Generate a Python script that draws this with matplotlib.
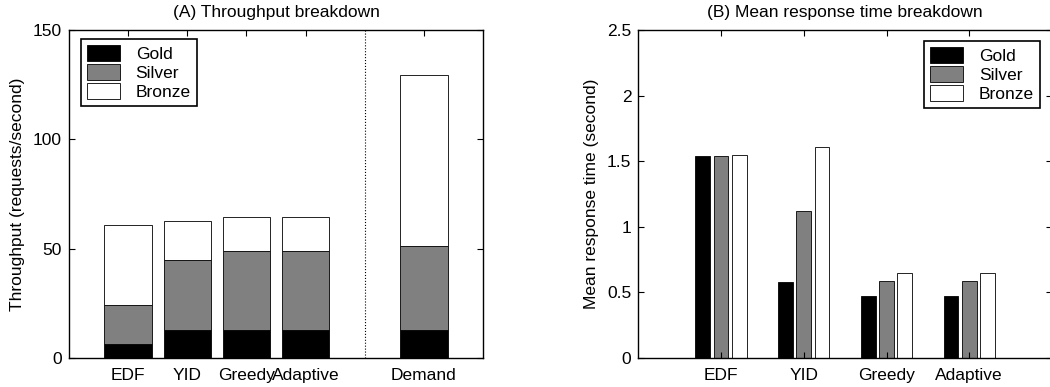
import matplotlib
matplotlib.use("Agg")
import matplotlib.pyplot as plt
import numpy as np

plt.rcParams['font.family'] = ['Liberation Sans', 'DejaVu Sans']
plt.rcParams['font.size'] = 12.5

# throughput breakdown (stacked segments)
thr_cats = ['EDF', 'YID', 'Greedy', 'Adaptive', 'Demand']
thr_gold = [6.3, 13.0, 13.0, 13.0, 13.0]
thr_silver = [18.1, 31.7, 35.8, 35.8, 38.3]
thr_bronze = [36.5, 17.9, 15.6, 15.6, 78.3]

# mean response time breakdown
rt_cats = ['EDF', 'YID', 'Greedy', 'Adaptive']
rt_gold = [1.54, 0.58, 0.47, 0.47]
rt_silver = [1.54, 1.12, 0.59, 0.59]
rt_bronze = [1.55, 1.61, 0.65, 0.65]

classes = ['Gold', 'Silver', 'Bronze']
colors = ['black', '#808080', 'white']

fig = plt.figure(figsize=(10.5, 3.87), dpi=100)
ax1 = fig.add_axes([0.0657, 0.0749, 0.3943, 0.8476])
ax2 = fig.add_axes([0.6079, 0.0749, 0.394, 0.8476])

legkw = dict(fancybox=False, edgecolor='black', framealpha=1, borderaxespad=0,
             handlelength=1.9, handleheight=1.05, handletextpad=0.9,
             labelspacing=0.12, borderpad=0.35)

# --- (A) stacked bars ---
xpos = np.array([1, 2, 3, 4, 6])
g = np.array(thr_gold)
s = np.array(thr_silver)
b = np.array(thr_bronze)
ax1.bar(xpos, g, 0.8, color=colors[0], edgecolor='black', linewidth=0.6, label=classes[0])
ax1.bar(xpos, s, 0.8, bottom=g, color=colors[1], edgecolor='black', linewidth=0.6, label=classes[1])
ax1.bar(xpos, b, 0.8, bottom=g + s, color=colors[2], edgecolor='black', linewidth=0.6, label=classes[2])
ax1.axvline(5, color='black', linestyle=':', linewidth=0.8)
ax1.set_xlim(0, 7)
ax1.set_ylim(0, 150)
ax1.set_xticks(xpos)
ax1.set_xticklabels(thr_cats)
ax1.set_yticks([0, 50, 100, 150])
ax1.set_ylabel('Throughput (requests/second)', labelpad=6)
ax1.set_title('(A) Throughput breakdown', fontsize=12.5, pad=9.5)
leg1 = ax1.legend(loc='upper left', bbox_to_anchor=(0.029, 0.973), **legkw)
leg1.get_frame().set_linewidth(1.2)

# --- (B) grouped bars ---
x2 = np.arange(1, len(rt_cats) + 1)
w = 0.18
off = 0.22
for k, vals in enumerate([rt_gold, rt_silver, rt_bronze]):
    ax2.bar(x2 + (k - 1) * off, vals, w, color=colors[k], edgecolor='black',
            linewidth=0.6, label=classes[k])
ax2.set_xlim(0, 5)
ax2.set_ylim(0, 2.5)
ax2.set_xticks(x2)
ax2.set_xticklabels(rt_cats)
ax2.set_yticks([0, 0.5, 1, 1.5, 2, 2.5])
ax2.set_yticklabels(['0', '0.5', '1', '1.5', '2', '2.5'])
ax2.set_ylabel('Mean response time (second)', labelpad=6)
ax2.set_title('(B) Mean response time breakdown', fontsize=12.5, pad=9.5)
leg2 = ax2.legend(loc='upper right', bbox_to_anchor=(0.971, 0.966), **legkw)
leg2.get_frame().set_linewidth(1.2)

for ax in (ax1, ax2):
    ax.tick_params(direction='in', top=True, right=True, length=4, width=0.8)
    ax.tick_params(axis='x', pad=7)
    ax.tick_params(axis='y', pad=5)
    for sp in ax.spines.values():
        sp.set_linewidth(1.0)

fig.savefig('out.png', dpi=100)
